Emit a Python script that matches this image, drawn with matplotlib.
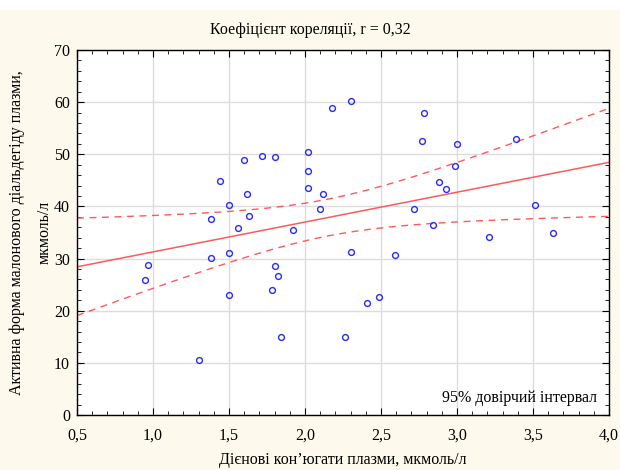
import numpy as np
import matplotlib.pyplot as plt
from matplotlib.patches import Rectangle
from matplotlib.ticker import MultipleLocator, FuncFormatter

# diene conjugates (x) vs malondialdehyde (y)
dk = [0.97, 0.95, 1.38, 1.50, 1.50, 1.30, 1.60, 1.44, 1.62, 1.50, 1.63,
      1.38, 1.56, 1.72, 1.80, 2.02, 2.18, 2.30, 2.02, 2.02, 2.12, 2.10,
      1.92, 2.78, 2.77, 2.72, 2.30, 2.59, 1.80, 1.82, 1.78, 2.41, 2.49,
      1.84, 2.26, 3.00, 3.39, 2.99, 2.88, 2.93, 3.51, 2.84, 3.21, 3.63]
mda = [28.8, 25.9, 30.2, 31.1, 23.1, 10.6, 48.9, 44.9, 42.3, 40.3, 38.2,
       37.5, 35.9, 49.7, 49.5, 50.5, 58.9, 60.2, 46.7, 43.6, 42.3, 39.5,
       35.4, 57.9, 52.5, 39.5, 31.3, 30.6, 28.5, 26.7, 23.9, 21.4, 22.6,
       15.0, 15.0, 52.0, 53.0, 47.7, 44.6, 43.3, 40.3, 36.4, 34.1, 34.9]

title = "Коефіцієнт кореляції, r = 0,32"
xlabel = "Дієнові кон’югати плазми, мкмоль/л"
ylabel = "Активна форма малонового діальдегіду плазми,\nмкмоль/л"
ci_label = "95% довірчий інтервал"

plt.rcParams['font.family'] = ['Liberation Serif', 'DejaVu Serif']

x = np.array(dk)
y = np.array(mda)
n = len(x)

# linear fit and 95% confidence band of the mean
b, a = np.polyfit(x, y, 1)
resid = y - (a + b * x)
s = np.sqrt(np.sum(resid ** 2) / (n - 2))
t = 2.018  # t(0.975, df=42)
xs = np.linspace(0.5, 4.0, 200)
ys = a + b * xs
se = s * np.sqrt(1 / n + (xs - x.mean()) ** 2 / np.sum((x - x.mean()) ** 2))

fig = plt.figure(figsize=(6.2, 4.7), dpi=100)
fig.patch.set_facecolor("#fef9ed")
fig.patches.append(Rectangle((0, 1 - 10 / 470), 1, 10 / 470, transform=fig.transFigure,
                             facecolor="white", edgecolor="none", zorder=-1))
ax = fig.add_axes([77 / 620, 1 - 415 / 470, 532 / 620, 365 / 470])
ax.set_facecolor("white")

red = "#ff5a5a"
ax.plot(xs, ys, color=red, lw=1.1, zorder=2)
ax.plot(xs, ys + t * se, color=red, lw=1.0, ls=(0, (5, 4)), zorder=2)
ax.plot(xs, ys - t * se, color=red, lw=1.0, ls=(0, (5, 4)), zorder=2)
ax.plot(x, y, 'o', ms=4.2, mfc="none", mec="#2a2aff", mew=1.0, zorder=3)

ax.set_xlim(0.5, 4.0)
ax.set_ylim(0, 70)
ax.xaxis.set_major_locator(MultipleLocator(0.5))
ax.xaxis.set_minor_locator(MultipleLocator(0.1))
ax.yaxis.set_major_locator(MultipleLocator(10))
ax.yaxis.set_minor_locator(MultipleLocator(2))
ax.xaxis.set_major_formatter(FuncFormatter(lambda v, p: f"{v:.1f}".replace(".", ",")))
ax.tick_params(which="both", direction="in", top=True, right=True,
               labelsize=11.5, colors="black")
ax.tick_params(which="major", length=5, width=0.8)
ax.tick_params(which="minor", length=3, width=0.6)
ax.tick_params(axis="x", pad=9)
ax.tick_params(axis="y", pad=5)
ax.grid(True, which="major", color="#dcdcdc", lw=1.0, zorder=0)
ax.set_axisbelow(True)
for sp in ax.spines.values():
    sp.set_color("black")
    sp.set_linewidth(1.0)

fig.text(0.5, 1 - 30 / 470, title, ha="center", va="center", fontsize=11.5)
ax.set_xlabel(xlabel, fontsize=11.5, labelpad=6)
ax.set_ylabel(ylabel, fontsize=11.5, labelpad=1, linespacing=2.0)
ax.text(0.977, 0.025, ci_label, transform=ax.transAxes, ha="right", va="bottom",
        fontsize=11.5)

fig.savefig("out.png", dpi=100, facecolor=fig.get_facecolor())
